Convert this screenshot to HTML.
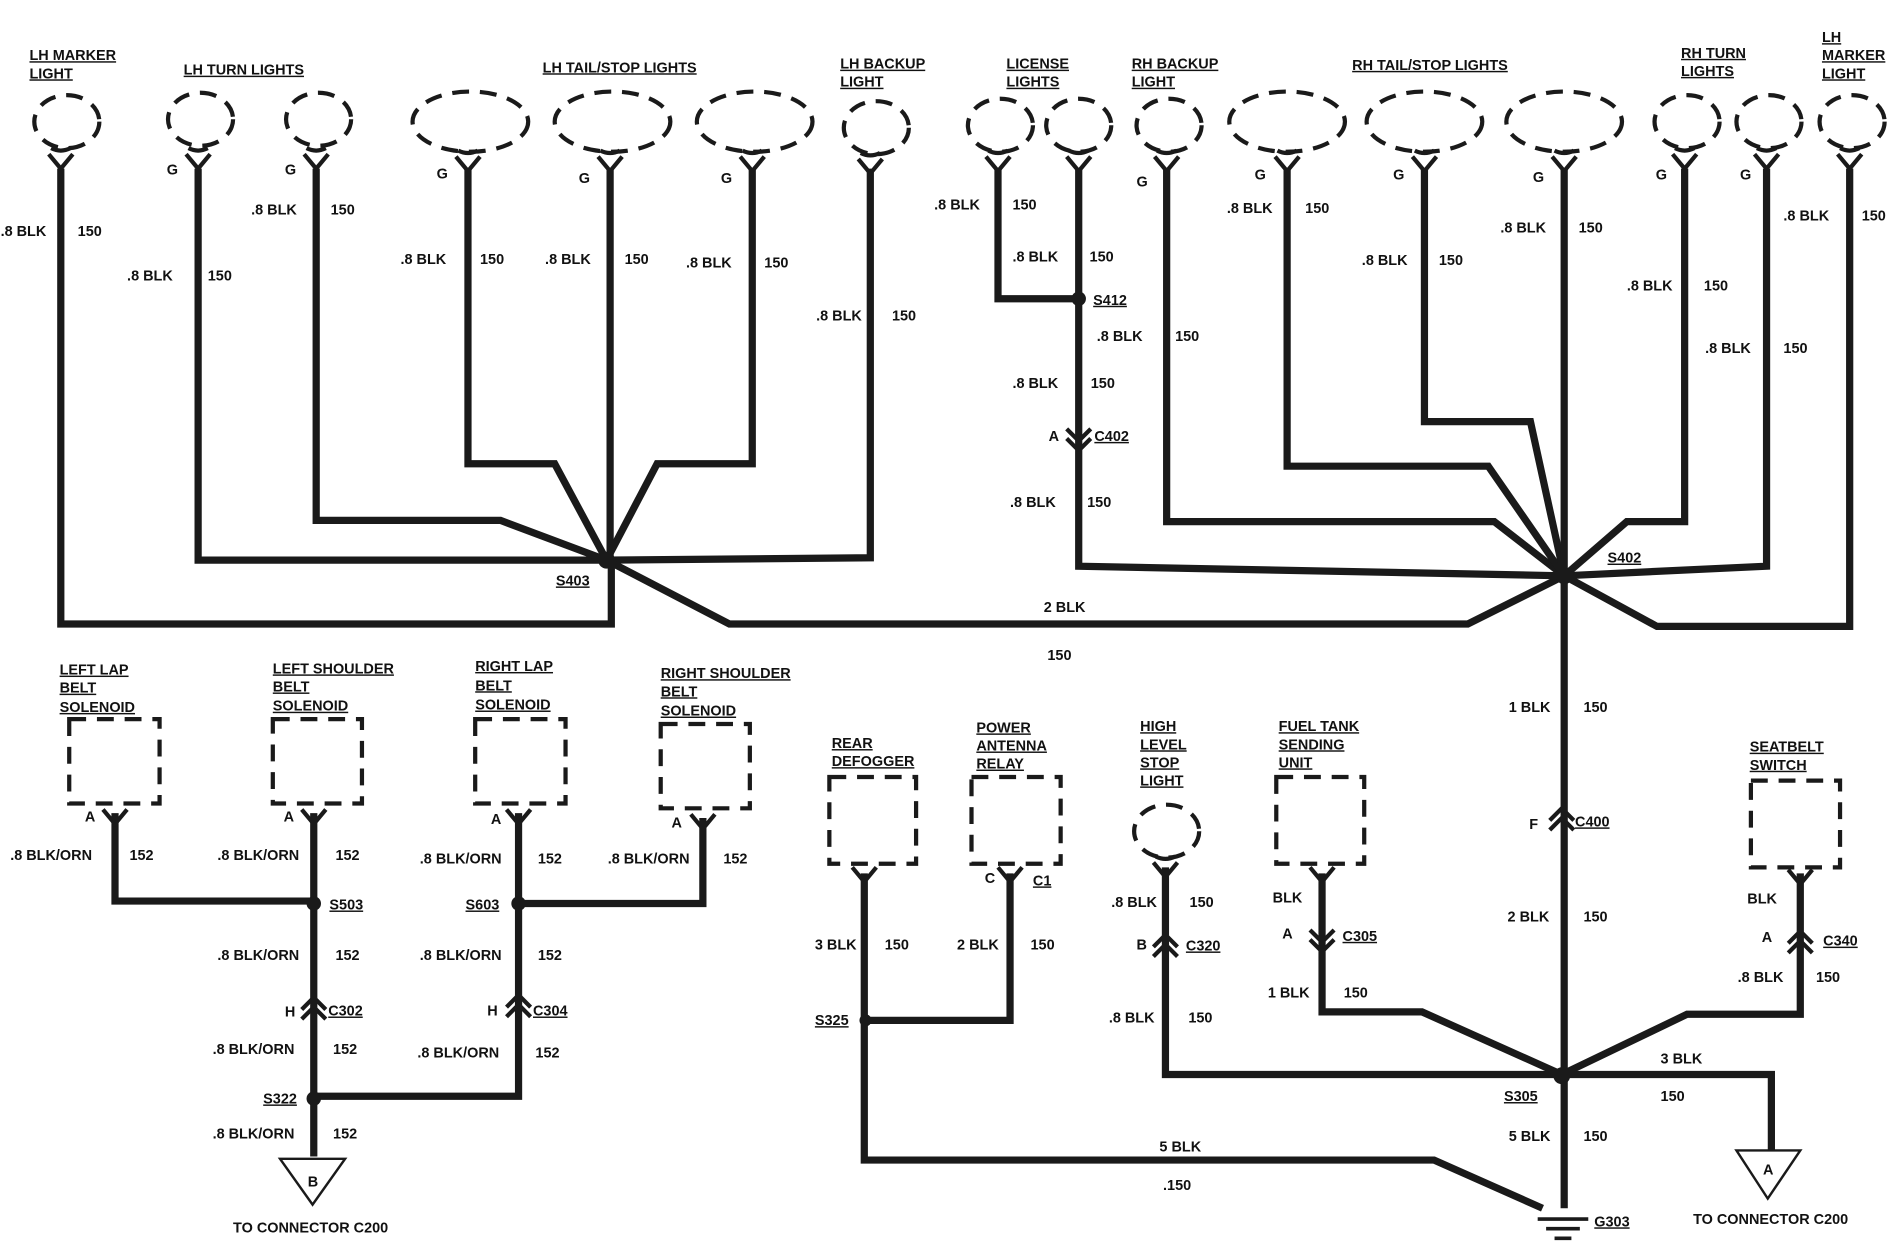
<!DOCTYPE html>
<html><head><meta charset="utf-8"><style>
html,body{margin:0;padding:0;background:#fff}
svg{display:block}
text{font-family:"Liberation Sans",sans-serif;font-weight:bold;font-size:12px;fill:#111}
.u{text-decoration:underline}
</style></head><body>
<svg width="1890" height="1248" viewBox="0 0 1568 1036" xmlns="http://www.w3.org/2000/svg">
<g fill="none" stroke="#1a1a1a" stroke-width="3.5" stroke-dasharray="14 9">
<ellipse cx="55" cy="101" rx="27" ry="22"/>
<ellipse cx="166" cy="99" rx="27" ry="22"/>
<ellipse cx="264" cy="99" rx="27" ry="22"/>
<ellipse cx="390" cy="101" rx="48" ry="25"/>
<ellipse cx="508" cy="101" rx="48" ry="25"/>
<ellipse cx="626" cy="101" rx="48" ry="25"/>
<ellipse cx="727" cy="106" rx="27" ry="22"/>
<ellipse cx="830" cy="104" rx="27" ry="22"/>
<ellipse cx="895" cy="104" rx="27" ry="22"/>
<ellipse cx="970" cy="104" rx="27" ry="22"/>
<ellipse cx="1068" cy="101" rx="48" ry="25"/>
<ellipse cx="1182" cy="101" rx="48" ry="25"/>
<ellipse cx="1298" cy="101" rx="48" ry="25"/>
<ellipse cx="1400" cy="101" rx="27" ry="22"/>
<ellipse cx="1468" cy="101" rx="27" ry="22"/>
<ellipse cx="1537" cy="101" rx="27" ry="22"/>
<rect x="57" y="597" width="75" height="70"/>
<rect x="226" y="597" width="74" height="70"/>
<rect x="394" y="597" width="75" height="70"/>
<rect x="548" y="601" width="74" height="70"/>
<rect x="688" y="645" width="72" height="72"/>
<rect x="806" y="645" width="74" height="72"/>
<ellipse cx="968" cy="690" rx="27" ry="22"/>
<rect x="1059" y="645" width="73" height="72"/>
<rect x="1453" y="648" width="74" height="72"/>
</g>
<g fill="none" stroke="#1a1a1a" stroke-width="6" stroke-linejoin="miter">
<polyline points="50,140 50,518 507,518 507,465"/>
<polyline points="164,140 164,465 503,465"/>
<polyline points="262,140 262,432 415,432 503,465"/>
<polyline points="388,140 388,385 460,385 503,465"/>
<polyline points="506,140 506,465"/>
<polyline points="624,140 624,385 545,385 503,465"/>
<polyline points="722,140 722,463 503,465"/>
<polyline points="503,465 605,518 1218,518 1298,478"/>
<polyline points="828,140 828,248 895,248"/>
<polyline points="895,140 895,470 1298,478"/>
<polyline points="968,140 968,433 1240,433 1298,478"/>
<polyline points="1068,140 1068,387 1235,387 1298,478"/>
<polyline points="1182,140 1182,350 1270,350 1298,478"/>
<polyline points="1298,140 1298,1003"/>
<polyline points="1398,140 1398,433 1350,433 1298,478"/>
<polyline points="1466,140 1466,470 1298,478"/>
<polyline points="1535,140 1535,520 1375,520 1298,478"/>
<polyline points="95,675 95,748 260,748"/>
<polyline points="260,675 260,960"/>
<polyline points="583,679 583,750 430,750"/>
<polyline points="430,675 430,910 260,910"/>
<polyline points="717,725 717,963 1190,963 1280,1003"/>
<polyline points="718,847 838,847 838,725"/>
<polyline points="967,720 967,892 1296,892"/>
<polyline points="1097,725 1097,840 1180,840 1296,892"/>
<polyline points="1494,725 1494,842 1400,842 1296,892"/>
<polyline points="1296,892 1375,892 1470,892 1470,955"/>
</g>
<!-- bulb sockets -->
<g fill="none" stroke="#1a1a1a" stroke-width="3.5">
<path d="M40,128 L50,140 L60,128 M42,123 Q50,127 58,123"/>
<path d="M154,128 L164,140 L174,128 M156,123 Q164,127 172,123"/>
<path d="M252,128 L262,140 L272,128 M254,123 Q262,127 270,123"/>
<path d="M378,130 L388,142 L398,130 M380,125 Q388,129 396,125"/>
<path d="M496,130 L506,142 L516,130 M498,125 Q506,129 514,125"/>
<path d="M614,130 L624,142 L634,130 M616,125 Q624,129 632,125"/>
<path d="M712,132 L722,144 L732,132 M714,127 Q722,131 730,127"/>
<path d="M818,130 L828,142 L838,130 M820,125 Q828,129 836,125"/>
<path d="M885,130 L895,142 L905,130 M887,125 Q895,129 903,125"/>
<path d="M958,130 L968,142 L978,130 M960,125 Q968,129 976,125"/>
<path d="M1058,130 L1068,142 L1078,130 M1060,125 Q1068,129 1076,125"/>
<path d="M1172,130 L1182,142 L1192,130 M1174,125 Q1182,129 1190,125"/>
<path d="M1288,130 L1298,142 L1308,130 M1290,125 Q1298,129 1306,125"/>
<path d="M1388,128 L1398,140 L1408,128 M1390,123 Q1398,127 1406,123"/>
<path d="M1456,128 L1466,140 L1476,128 M1458,123 Q1466,127 1474,123"/>
<path d="M1525,128 L1535,140 L1545,128 M1527,123 Q1535,127 1543,123"/>
<path d="M85,672 L95,684 L105,672"/>
<path d="M250,672 L260,684 L270,672"/>
<path d="M420,672 L430,684 L440,672"/>
<path d="M573,676 L583,688 L593,676"/>
<path d="M707,720 L717,732 L727,720"/>
<path d="M828,720 L838,732 L848,720"/>
<path d="M957,716 L967,728 L977,716 M959,711 Q967,715 975,711"/>
<path d="M1087,720 L1097,732 L1107,720"/>
<path d="M1484,722 L1494,734 L1504,722"/>
<!-- connectors up -->
<path d="M250,838 L260,828 L270,838 M250,846 L260,836 L270,846"/>
<path d="M420,836 L430,826 L440,836 M420,844 L430,834 L440,844"/>
<path d="M1286,681 L1296,671 L1306,681 M1286,689 L1296,679 L1306,689"/>
<path d="M957,786 L967,776 L977,786 M957,794 L967,784 L977,794"/>
<path d="M1484,783 L1494,773 L1504,783 M1484,791 L1494,781 L1504,791"/>
<!-- connectors down -->
<path d="M885,356 L895,366 L905,356 M885,364 L895,374 L905,364"/>
<path d="M1087,772 L1097,782 L1107,772 M1087,780 L1097,790 L1107,780"/>
</g>
<g fill="#1a1a1a">
<circle cx="503" cy="465" r="7"/><circle cx="1298" cy="478" r="7"/><circle cx="895" cy="248" r="6"/>
<circle cx="260" cy="750" r="6"/><circle cx="430" cy="750" r="6"/><circle cx="260" cy="912" r="6"/>
<circle cx="718" cy="847" r="5"/><circle cx="1296" cy="893" r="7"/>
</g>
<g fill="none" stroke="#1a1a1a" stroke-width="2">
<polygon points="232,962 286,962 259,1000"/>
<polygon points="1441,955 1494,955 1467,995"/>
<line x1="1276" y1="1012" x2="1318" y2="1012" stroke-width="3"/>
<line x1="1283" y1="1020" x2="1311" y2="1020" stroke-width="3"/>
<line x1="1290" y1="1028" x2="1304" y2="1028" stroke-width="3"/>
</g>
<g>
<text x="24" y="50" class="u">LH MARKER</text><text x="24" y="65" class="u">LIGHT</text>
<text x="152" y="62" class="u">LH TURN LIGHTS</text>
<text x="450" y="60" class="u">LH TAIL/STOP LIGHTS</text>
<text x="697" y="57" class="u">LH BACKUP</text><text x="697" y="72" class="u">LIGHT</text>
<text x="835" y="57" class="u">LICENSE</text><text x="835" y="72" class="u">LIGHTS</text>
<text x="939" y="57" class="u">RH BACKUP</text><text x="939" y="72" class="u">LIGHT</text>
<text x="1122" y="58" class="u">RH TAIL/STOP LIGHTS</text>
<text x="1395" y="48" class="u">RH TURN</text><text x="1395" y="63" class="u">LIGHTS</text>
<text x="1512" y="35" class="u">LH</text><text x="1512" y="50" class="u">MARKER</text><text x="1512" y="65" class="u">LIGHT</text>
<text x="0" y="196">.8 BLK</text><text x="64" y="196">150</text>
<text x="138" y="145">G</text><text x="105" y="233">.8 BLK</text><text x="172" y="233">150</text>
<text x="236" y="145">G</text><text x="208" y="178">.8 BLK</text><text x="274" y="178">150</text>
<text x="362" y="148">G</text><text x="332" y="219">.8 BLK</text><text x="398" y="219">150</text>
<text x="480" y="152">G</text><text x="452" y="219">.8 BLK</text><text x="518" y="219">150</text>
<text x="598" y="152">G</text><text x="569" y="222">.8 BLK</text><text x="634" y="222">150</text>
<text x="677" y="266">.8 BLK</text><text x="740" y="266">150</text>
<text x="775" y="174">.8 BLK</text><text x="840" y="174">150</text>
<text x="840" y="217">.8 BLK</text><text x="904" y="217">150</text>
<text x="907" y="253" class="u">S412</text>
<text x="910" y="283">.8 BLK</text><text x="975" y="283">150</text>
<text x="840" y="322">.8 BLK</text><text x="905" y="322">150</text>
<text x="870" y="366">A</text><text x="908" y="366" class="u">C402</text>
<text x="838" y="421">.8 BLK</text><text x="902" y="421">150</text>
<text x="943" y="155">G</text>
<text x="1041" y="149">G</text><text x="1018" y="177">.8 BLK</text><text x="1083" y="177">150</text>
<text x="1156" y="149">G</text><text x="1130" y="220">.8 BLK</text><text x="1194" y="220">150</text>
<text x="1272" y="151">G</text><text x="1245" y="193">.8 BLK</text><text x="1310" y="193">150</text>
<text x="1374" y="149">G</text><text x="1350" y="241">.8 BLK</text><text x="1414" y="241">150</text>
<text x="1444" y="149">G</text><text x="1415" y="293">.8 BLK</text><text x="1480" y="293">150</text>
<text x="1480" y="183">.8 BLK</text><text x="1545" y="183">150</text>
<text x="461" y="486" class="u">S403</text><text x="1334" y="467" class="u">S402</text>
<text x="866" y="508">2 BLK</text><text x="869" y="548">150</text>
<text x="1252" y="591">1 BLK</text><text x="1314" y="591">150</text>
<text x="1269" y="688">F</text><text x="1307" y="686" class="u">C400</text>
<text x="1251" y="765">2 BLK</text><text x="1314" y="765">150</text>
<text x="49" y="560" class="u">LEFT LAP</text><text x="49" y="575" class="u">BELT</text><text x="49" y="591" class="u">SOLENOID</text>
<text x="226" y="559" class="u">LEFT SHOULDER</text><text x="226" y="574" class="u">BELT</text><text x="226" y="590" class="u">SOLENOID</text>
<text x="394" y="557" class="u">RIGHT LAP</text><text x="394" y="573" class="u">BELT</text><text x="394" y="589" class="u">SOLENOID</text>
<text x="548" y="563" class="u">RIGHT SHOULDER</text><text x="548" y="578" class="u">BELT</text><text x="548" y="594" class="u">SOLENOID</text>
<text x="70" y="682">A</text><text x="235" y="682">A</text><text x="407" y="684">A</text><text x="557" y="687">A</text>
<text x="8" y="714">.8 BLK/ORN</text><text x="107" y="714">152</text>
<text x="180" y="714">.8 BLK/ORN</text><text x="278" y="714">152</text>
<text x="348" y="717">.8 BLK/ORN</text><text x="446" y="717">152</text>
<text x="504" y="717">.8 BLK/ORN</text><text x="600" y="717">152</text>
<text x="273" y="755" class="u">S503</text><text x="386" y="755" class="u">S603</text>
<text x="180" y="797">.8 BLK/ORN</text><text x="278" y="797">152</text>
<text x="348" y="797">.8 BLK/ORN</text><text x="446" y="797">152</text>
<text x="236" y="844">H</text><text x="272" y="843" class="u">C302</text>
<text x="404" y="843">H</text><text x="442" y="843" class="u">C304</text>
<text x="176" y="875">.8 BLK/ORN</text><text x="276" y="875">152</text>
<text x="346" y="878">.8 BLK/ORN</text><text x="444" y="878">152</text>
<text x="218" y="916" class="u">S322</text>
<text x="176" y="945">.8 BLK/ORN</text><text x="276" y="945">152</text>
<text x="255" y="985">B</text><text x="193" y="1023">TO CONNECTOR C200</text>
<text x="690" y="621" class="u">REAR</text><text x="690" y="636" class="u">DEFOGGER</text>
<text x="810" y="608" class="u">POWER</text><text x="810" y="623" class="u">ANTENNA</text><text x="810" y="638" class="u">RELAY</text>
<text x="946" y="607" class="u">HIGH</text><text x="946" y="622" class="u">LEVEL</text><text x="946" y="637" class="u">STOP</text><text x="946" y="652" class="u">LIGHT</text>
<text x="1061" y="607" class="u">FUEL TANK</text><text x="1061" y="622" class="u">SENDING</text><text x="1061" y="637" class="u">UNIT</text>
<text x="1452" y="624" class="u">SEATBELT</text><text x="1452" y="639" class="u">SWITCH</text>
<text x="817" y="733">C</text><text x="857" y="735" class="u">C1</text>
<text x="676" y="788">3 BLK</text><text x="734" y="788">150</text>
<text x="794" y="788">2 BLK</text><text x="855" y="788">150</text>
<text x="676" y="851" class="u">S325</text>
<text x="922" y="753">.8 BLK</text><text x="987" y="753">150</text>
<text x="943" y="788">B</text><text x="984" y="789" class="u">C320</text>
<text x="920" y="849">.8 BLK</text><text x="986" y="849">150</text>
<text x="1056" y="749">BLK</text><text x="1064" y="779">A</text><text x="1114" y="781" class="u">C305</text>
<text x="1052" y="828">1 BLK</text><text x="1115" y="828">150</text>
<text x="1450" y="750">BLK</text><text x="1462" y="782">A</text><text x="1513" y="785" class="u">C340</text>
<text x="1442" y="815">.8 BLK</text><text x="1507" y="815">150</text>
<text x="1378" y="883">3 BLK</text><text x="1378" y="914">150</text>
<text x="1248" y="914" class="u">S305</text>
<text x="1252" y="947">5 BLK</text><text x="1314" y="947">150</text>
<text x="962" y="956">5 BLK</text><text x="965" y="988">.150</text>
<text x="1323" y="1018" class="u">G303</text>
<text x="1463" y="975">A</text><text x="1405" y="1016">TO CONNECTOR C200</text>
</g>
</svg>
</body></html>
